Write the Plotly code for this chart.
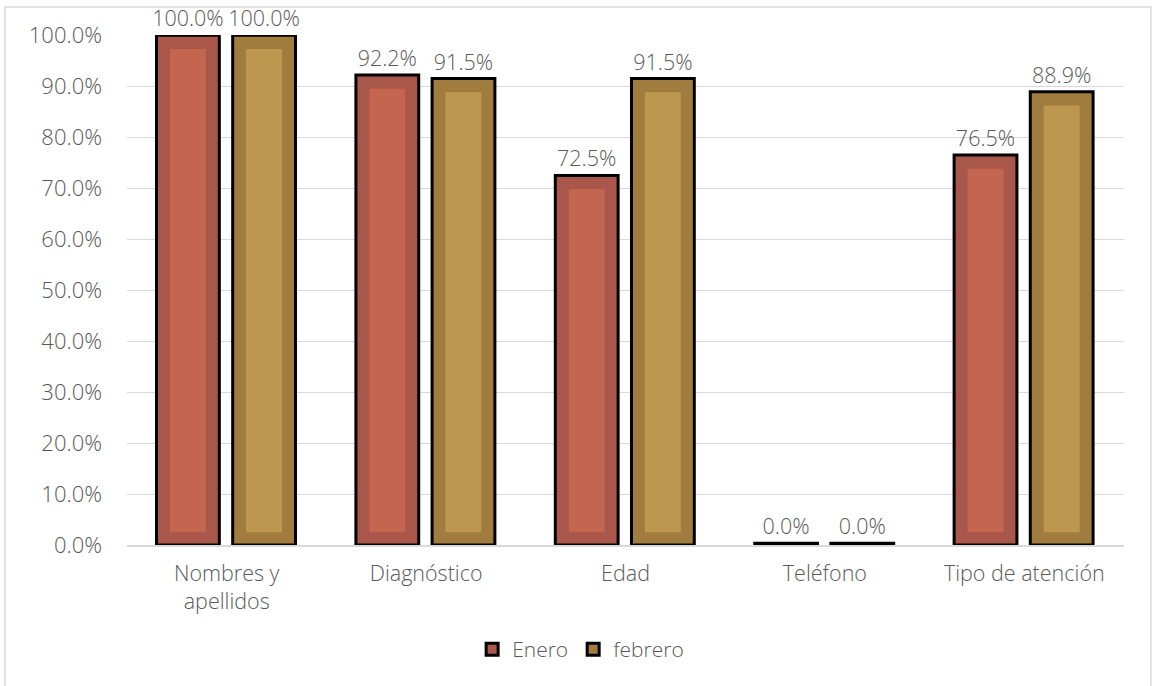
import plotly.graph_objects as go

categories = ["Nombres y<br>apellidos", "Diagnóstico", "Edad", "Teléfono", "Tipo de atención"]
enero = [100.0, 92.2, 72.5, 0.0, 76.5]
febrero = [100.0, 91.5, 91.5, 0.0, 88.9]
series_names = ["Enero", "febrero"]
y_ticks = [0, 10, 20, 30, 40, 50, 60, 70, 80, 90, 100]

FONT = "Open Sans"
TXT = "#595959"
colors_outer = ["#A9574A", "#A07C3E"]
colors_inner = ["#C4664F", "#BD9750"]
offsets = [-0.352, 0.03]
BW = 0.315
INNER_W = 0.18

fig = go.Figure()
for name, vals, co, ci, off in zip(series_names, [enero, febrero], colors_outer, colors_inner, offsets):
    shown = [max(v, 0.35) for v in vals]  # keep zero bars visible as an outline
    fig.add_trace(go.Bar(
        x=categories, y=shown, name=name, width=BW, offset=off,
        marker=dict(color=co, line=dict(color="black", width=3)),
        text=[f"{v:.1f}%" for v in vals], textposition="outside",
        textfont=dict(family=FONT, size=21.5, color=TXT, weight=300),
        constraintext="none", cliponaxis=False,
        hoverinfo="skip",
    ))
for name, vals, ci, off in zip(series_names, [enero, febrero], colors_inner, offsets):
    inner = [(v - 5.2) if v > 6 else None for v in vals]
    fig.add_trace(go.Bar(
        x=categories, y=inner, base=2.5, width=INNER_W, offset=off + (BW - INNER_W) / 2,
        marker=dict(color=ci, line=dict(width=0)), showlegend=False, hoverinfo="skip",
    ))

fig.update_layout(
    width=1155, height=686,
    barmode="overlay",
    paper_bgcolor="white", plot_bgcolor="white",
    margin=dict(l=127, r=31, t=35, b=141),
    font=dict(family=FONT, size=21, color=TXT, weight=300),
    showlegend=True,
    legend=dict(orientation="h", x=0.455, xanchor="center", y=-0.205, yanchor="middle",
                font=dict(family=FONT, size=21, color=TXT, weight=300), itemwidth=30,
                traceorder="normal"),
    xaxis=dict(showgrid=False, showline=True, linecolor="#D9D9D9", linewidth=1.5,
               tickfont=dict(family=FONT, size=21.5, color=TXT, weight=300), ticks="",
               ticklabelstandoff=8),
    yaxis=dict(range=[0, 100.05], tickvals=y_ticks,
               ticktext=[f"{t:.1f}%" for t in y_ticks],
               showgrid=True, gridcolor="#D9D9D9", gridwidth=1.3, zeroline=False,
               tickfont=dict(family=FONT, size=22, color=TXT, weight=300),
               ticklabelstandoff=24),
    shapes=[dict(type="rect", xref="paper", yref="paper",
                 x0=-0.1224, x1=1.027, y0=-0.3, y1=1.055,
                 line=dict(color="#D9D9D9", width=1.5), fillcolor="rgba(0,0,0,0)", layer="below")],
)

fig.write_html("out.html")
